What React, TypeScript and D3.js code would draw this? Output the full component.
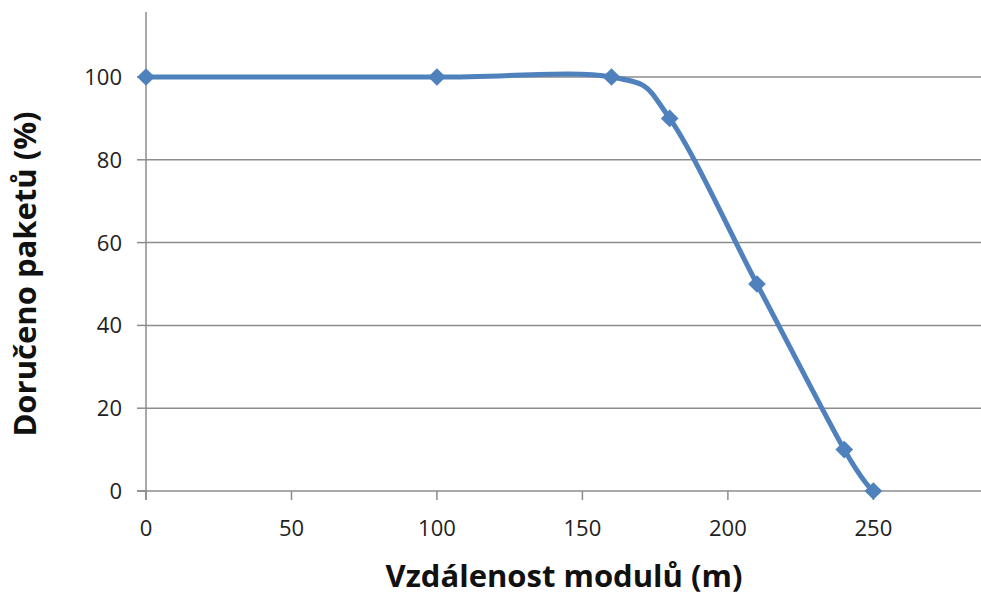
import { useRef, useEffect } from "react";
import * as d3 from "d3";

const distances = [0, 100, 160, 180, 210, 240, 250];
const delivered = [100, 100, 100, 90, 50, 10, 0];
const xTicks = [0, 50, 100, 150, 200, 250];
const yTicks = [0, 20, 40, 60, 80, 100];
const xTitle = "Vzdálenost modulů (m)";
const yTitle = "Doručeno paketů (%)";

export default function App() {
  const svgRef = useRef<SVGSVGElement | null>(null);

  useEffect(() => {
    const width = 981;
    const height = 598;
    const svg = d3.select(svgRef.current);
    svg.selectAll("*").remove();
    svg.attr("width", width).attr("height", height);

    const x = d3.scaleLinear().domain([0, 287]).range([146, 981]);
    const y = d3.scaleLinear().domain([0, 115.7]).range([491, 12]);
    const font = "'Open Sans', Lato, sans-serif";
    const grey = "#8c8c8c";

    // gridlines
    svg
      .append("g")
      .selectAll("line")
      .data(yTicks.filter((d) => d > 0))
      .join("line")
      .attr("x1", x(0))
      .attr("x2", width)
      .attr("y1", (d) => y(d))
      .attr("y2", (d) => y(d))
      .attr("stroke", grey)
      .attr("stroke-width", 1.5);

    // axes
    svg
      .append("line")
      .attr("x1", x(0))
      .attr("x2", x(0))
      .attr("y1", 12)
      .attr("y2", y(0) + 9)
      .attr("stroke", grey)
      .attr("stroke-width", 1.5);
    svg
      .append("line")
      .attr("x1", x(0) - 9)
      .attr("x2", width)
      .attr("y1", y(0))
      .attr("y2", y(0))
      .attr("stroke", grey)
      .attr("stroke-width", 1.5);

    svg
      .append("g")
      .selectAll("line")
      .data(xTicks)
      .join("line")
      .attr("x1", (d) => x(d))
      .attr("x2", (d) => x(d))
      .attr("y1", y(0))
      .attr("y2", y(0) + 9)
      .attr("stroke", grey)
      .attr("stroke-width", 1.5);
    svg
      .append("g")
      .selectAll("line")
      .data(yTicks)
      .join("line")
      .attr("x1", x(0) - 9)
      .attr("x2", x(0))
      .attr("y1", (d) => y(d))
      .attr("y2", (d) => y(d))
      .attr("stroke", grey)
      .attr("stroke-width", 1.5);

    svg
      .append("g")
      .selectAll("text")
      .data(xTicks)
      .join("text")
      .attr("x", (d) => x(d))
      .attr("y", 536)
      .attr("text-anchor", "middle")
      .style("font-family", font)
      .style("font-size", "22px")
      .attr("fill", "#222")
      .text((d) => d);
    svg
      .append("g")
      .selectAll("text")
      .data(yTicks)
      .join("text")
      .attr("x", x(0) - 24)
      .attr("y", (d) => y(d))
      .attr("dy", "0.36em")
      .attr("text-anchor", "end")
      .style("font-family", font)
      .style("font-size", "22px")
      .attr("fill", "#222")
      .text((d) => d);

    // titles
    svg
      .append("text")
      .attr("x", 564)
      .attr("y", 587)
      .attr("text-anchor", "middle")
      .style("font-family", font)
      .style("font-size", "31px")
      .style("font-weight", "700")
      .attr("fill", "#111")
      .text(xTitle);
    svg
      .append("text")
      .attr("transform", "rotate(-90)")
      .attr("x", -274)
      .attr("y", 36)
      .attr("text-anchor", "middle")
      .style("font-family", font)
      .style("font-size", "31px")
      .style("font-weight", "700")
      .attr("fill", "#111")
      .text(yTitle);

    const pts = distances.map((d, i) => [d, delivered[i]] as [number, number]);
    const line = d3
      .line<[number, number]>()
      .x((d) => x(d[0]))
      .y((d) => y(d[1]))
      .curve(d3.curveCardinal.tension(0));

    svg
      .append("path")
      .datum(pts)
      .attr("fill", "none")
      .attr("stroke", "#4f81bd")
      .attr("stroke-width", 5)
      .attr("d", line);

    svg
      .append("g")
      .selectAll("path")
      .data(pts)
      .join("path")
      .attr("transform", (d) => `translate(${x(d[0])},${y(d[1])})`)
      .attr("d", d3.symbol(d3.symbolDiamond2, 200)())
      .attr("fill", "#4f81bd");
  }, []);

  return (
    <svg
      ref={svgRef}
      style={{ position: "absolute", top: 0, left: 0, background: "#fff" }}
    />
  );
}
